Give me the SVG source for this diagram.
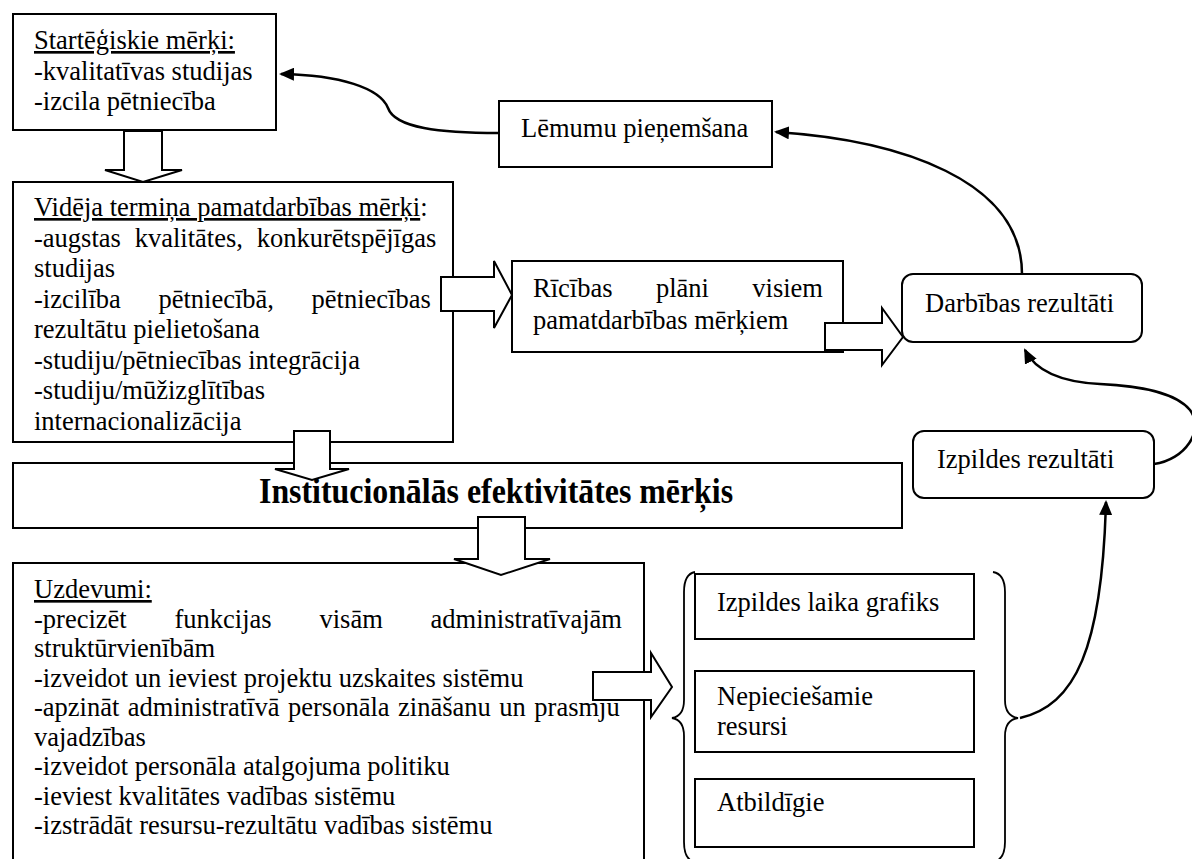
<svg xmlns="http://www.w3.org/2000/svg" width="1192" height="859" viewBox="0 0 1192 859">
  <style>
    .box { fill: #fff; stroke: #000; stroke-width: 2; }
    .rbox { fill: #fff; stroke: #000; stroke-width: 2; }
    .t { font-family: "Liberation Serif", "Times New Roman", Times, serif; font-size: 26.5px; fill: #000; }
    .tb { font-family: "Liberation Serif", "Times New Roman", Times, serif; font-size: 35px; font-weight: bold; fill: #000; }
    .u { text-decoration: underline; }
    .block { fill: #fff; stroke: #000; stroke-width: 2; stroke-linejoin: miter; }
    .curve { fill: none; stroke: #000; stroke-width: 2.5; }
    .brace { fill: none; stroke: #000; stroke-width: 1.8; }
  </style>
  <defs>
    <marker id="head" markerUnits="userSpaceOnUse" markerWidth="16" markerHeight="13" refX="13" refY="6.5" orient="auto">
      <path d="M0,0 L15,6.5 L0,13 z" fill="#000"/>
    </marker>
  </defs>

  <rect width="1192" height="859" fill="#fff"/>

  <!-- strategic goals -->
  <g id="strategic-goals">
    <rect class="box" x="13" y="14" width="263" height="116"/>
    <text class="t" x="34" y="49"><tspan class="u">Startēģiskie mērķi:</tspan></text>
    <text class="t" x="34" y="79.5">-kvalitatīvas studijas</text>
    <text class="t" x="34" y="110">-izcila pētniecība</text>
  </g>

  <!-- decision making -->
  <g id="decision-making">
    <rect class="box" x="499" y="101" width="273" height="66"/>
    <text class="t" x="521" y="137">Lēmumu pieņemšana</text>
  </g>

  <!-- medium-term core activity goals -->
  <g id="medium-term-goals">
    <rect class="box" x="13" y="182" width="440" height="260"/>
    <text class="t" x="34" y="216"><tspan class="u">Vidēja termiņa pamatdarbības mērķi</tspan>:</text>
    <text class="t" x="34" y="246.5" word-spacing="7.2">-augstas kvalitātes, konkurētspējīgas</text>
    <text class="t" x="34" y="277">studijas</text>
    <text class="t" x="34" y="307.5" word-spacing="31">-izcilība pētniecībā, pētniecības</text>
    <text class="t" x="34" y="338">rezultātu pielietošana</text>
    <text class="t" x="34" y="368.5">-studiju/pētniecības integrācija</text>
    <text class="t" x="34" y="399">-studiju/mūžizglītības</text>
    <text class="t" x="34" y="429.5">internacionalizācija</text>
  </g>

  <!-- action plans -->
  <g id="action-plans">
    <rect class="box" x="512" y="261" width="331" height="91"/>
    <text class="t" x="533" y="297" word-spacing="36.8">Rīcības plāni visiem</text>
    <text class="t" x="533" y="329">pamatdarbības mērķiem</text>
  </g>

  <!-- activity results -->
  <g id="activity-results">
    <rect class="rbox" x="902" y="274" width="240" height="68" rx="11"/>
    <text class="t" x="925" y="312">Darbības rezultāti</text>
  </g>

  <!-- execution results -->
  <g id="execution-results">
    <rect class="rbox" x="913" y="431" width="241" height="67" rx="11"/>
    <text class="t" x="937" y="468">Izpildes rezultāti</text>
  </g>

  <!-- institutional efficiency goal (condensed bold heading) -->
  <g id="institutional-goal">
    <rect class="box" x="13" y="463" width="889" height="65"/>
    <text class="tb" transform="translate(259,503) scale(0.91,1)">Institucionālās efektivitātes mērķis</text>
  </g>

  <!-- tasks -->
  <g id="tasks">
    <rect class="box" x="13" y="563" width="631" height="310"/>
    <text class="t" x="34" y="598"><tspan class="u">Uzdevumi:</tspan></text>
    <text class="t" x="34" y="627.5" word-spacing="41.2">-precizēt funkcijas visām administratīvajām</text>
    <text class="t" x="34" y="657">struktūrvienībām</text>
    <text class="t" x="34" y="686.5">-izveidot un ieviest projektu uzskaites sistēmu</text>
    <text class="t" x="34" y="716" word-spacing="1.9">-apzināt administratīvā personāla zināšanu un prasmju</text>
    <text class="t" x="34" y="745.5">vajadzības</text>
    <text class="t" x="34" y="775">-izveidot personāla atalgojuma politiku</text>
    <text class="t" x="34" y="804.5">-ieviest kvalitātes vadības sistēmu</text>
    <text class="t" x="34" y="834">-izstrādāt resursu-rezultātu vadības sistēmu</text>
  </g>

  <!-- bracketed task attributes -->
  <g id="task-attributes">
    <path class="brace" d="M695,572 Q684,574 684,592 L684,700 Q684,716 672,718 Q684,720 684,736 L684,842 Q684,860 695,862"/>
    <path class="brace" d="M993,572 Q1005,574 1005,592 L1005,700 Q1005,716 1018,718 Q1005,720 1005,736 L1005,842 Q1005,860 993,862"/>
    <g id="schedule">
      <rect class="box" x="695" y="574" width="279" height="65"/>
      <text class="t" x="717" y="611">Izpildes laika grafiks</text>
    </g>
    <g id="resources">
      <rect class="box" x="695" y="671" width="279" height="81"/>
      <text class="t" x="717" y="705">Nepieciešamie</text>
      <text class="t" x="717" y="735">resursi</text>
    </g>
    <g id="responsible">
      <rect class="box" x="695" y="779" width="279" height="68"/>
      <text class="t" x="717" y="811">Atbildīgie</text>
    </g>
  </g>

  <!-- connectors -->
  <g id="connectors">
    <!-- hollow block arrows -->
    <polygon class="block" points="124,131 162,131 162,170 182,170 143,182 105,170 124,170"/>
    <polygon class="block" points="294,431 330,431 330,469 349,469 312,480 275,469 294,469"/>
    <polygon class="block" points="478,517 525,517 525,559 550,559 501,575 454,559 478,559"/>
    <polygon class="block" points="441,277 494,277 494,261 512,295 494,328 494,311 441,311"/>
    <polygon class="block" points="825,323 882,323 882,308 903,337 882,365 882,350 825,350"/>
    <polygon class="block" points="593,672 651,672 651,653 672,687 651,717 651,700 593,700"/>
    <!-- feedback curves -->
    <path class="curve" marker-end="url(#head)" d="M499,133 C440,133 395,128 388,108 C380,88 340,75 281,74"/>
    <path class="curve" marker-end="url(#head)" d="M1022,274 C1022,180 900,140 776,132"/>
    <path class="curve" marker-end="url(#head)" d="M1154,464 C1185,460 1205,430 1190,410 C1175,392 1140,386 1100,384 C1060,382 1035,370 1025,350"/>
    <path class="curve" marker-end="url(#head)" d="M1020,718 C1075,705 1102,650 1106,502"/>
  </g>
</svg>
